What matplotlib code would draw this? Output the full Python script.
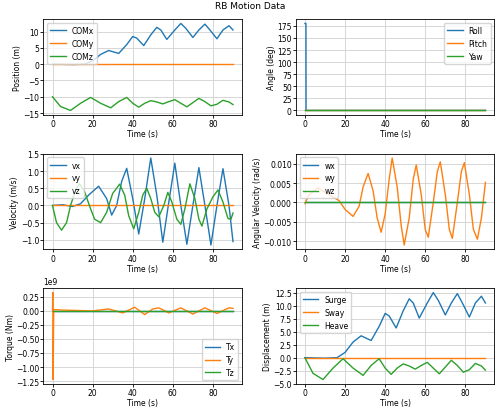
import numpy as np
import matplotlib
matplotlib.use("Agg")
import matplotlib.pyplot as plt

t_x = [0,10,16,20,24,28,33,37,40,42,45.5,49,52,54,57,61,64,66.5,70,73,76,78.5,82,85,88,90]
surge = [0,-0.1,0,1,3,4.2,3.3,6,8.5,8,5.7,9,11.3,10.5,7.6,10.5,12.5,11,8.2,10.5,12.3,10.5,7.8,10.5,11.8,10.5]
t_z = [0,4,9,14,19,24,29,33,37,40,43,46,49,52,55,58,61,64,67,70,73,76,79,82,85,88,90]
heave = [0,-3,-4.2,-2,-0.2,-2,-3.4,-1.5,-0.2,-2,-3.2,-2,-1.2,-1.6,-2.2,-1.5,-0.9,-2,-3.1,-1.8,-0.5,-1.5,-2.8,-2.3,-1.1,-1.6,-2.4]
comz = [h - 10 for h in heave]
t_vx = [0,5,10,14,18,23,27,29.5,32,34.5,37,40,43,46,49,52,55,58,61,64,67,70,73,76,79,82,85,88,90]
vx = [0,0.02,-0.03,0.05,0.3,0.56,0.2,-0.28,0,0.7,1.08,0.2,-0.83,0.2,1.38,0.3,-1.07,0.1,1.23,0,-1.13,0,1.1,0,-1.15,0,1.07,0,-1.05]
t_vz = [0,2,4.5,7,9,11.5,13.5,16,19,21,24,27,30,33.5,36,38,40.5,43,45,47,49,51,53,55.5,57.5,59.5,62,64,66,68.5,71,73,74.5,77,80,82.5,85,87.5,89,90]
vz = [0,-0.5,-0.72,-0.5,0,0.45,0.63,0.4,-0.1,-0.4,-0.5,-0.2,0.35,0.62,0.3,-0.3,-0.68,-0.2,0.3,0.5,0.2,-0.2,-0.33,0,0.38,0.1,-0.4,-0.55,-0.1,0.63,0.2,-0.4,-0.6,-0.1,0.25,0.45,0.1,-0.38,-0.4,-0.22]
t_wy = [0,2,6.5,12,17,20,24,27,29,31.5,34,36,38,40,42,43.5,46,48,49.5,52,54,55.5,58,60,61.5,64,66,67.5,70,72,73.5,76,78,79.5,82,84,86,88,90]
wy = [-0.0003,0.002,0.0038,0.002,0.0005,-0.0018,-0.0036,-0.001,0.004,0.0075,0.003,-0.004,-0.0077,-0.003,0.006,0.0115,0.004,-0.006,-0.011,-0.004,0.006,0.0097,0.002,-0.007,-0.009,0,0.008,0.0105,0.002,-0.007,-0.0093,0,0.008,0.0103,0.002,-0.007,-0.0095,-0.004,0.0052]
t_ty = [0,0.15,0.3,0.6,5,20,28,35,41,46,50,53,58,64,70,76,82,88,90]
ty = [0,0.32e9,-1.22e9,0.02e9,0.01e9,-0.005e9,0.03e9,-0.04e9,0.06e9,-0.07e9,0.03e9,0.05e9,-0.04e9,0.05e9,-0.06e9,0.05e9,-0.05e9,0.05e9,0.04e9]
t_roll = [0,0.5,0.55,90]
roll = [180,180,0,0]
t_end = [0,90]
zero = [0,0]

plt.rcParams['lines.linewidth'] = 1.0
plt.rcParams['axes.linewidth'] = 0.6
plt.rcParams['grid.linewidth'] = 0.6
plt.rcParams['grid.color'] = '#d0d0d0'
fig, axs = plt.subplots(3, 2, figsize=(5,4.14), dpi=100)
fs = 5.5
def style(ax, ylabel, yt, loc='upper left'):
    ax.set_yticks(yt)
    ax.set_xlabel('Time (s)', fontsize=fs, labelpad=1)
    ax.set_ylabel(ylabel, fontsize=fs, labelpad=1)
    ax.tick_params(labelsize=fs, length=2, pad=1, width=0.6)
    ax.grid(True)
    ax.legend(loc=loc, fontsize=fs)
    ax.yaxis.get_offset_text().set_fontsize(fs)

ax = axs[0,0]
ax.plot(t_x, surge, label='COMx'); ax.plot(t_end, zero, label='COMy'); ax.plot(t_z, comz, label='COMz')
style(ax, 'Position (m)', np.arange(-15,11,5))
ax = axs[0,1]
ax.plot(t_roll, roll, label='Roll'); ax.plot(t_end, zero, label='Pitch'); ax.plot(t_end, zero, label='Yaw')
style(ax, 'Angle (deg)', np.arange(0,176,25), 'upper right')
ax = axs[1,0]
ax.plot(t_vx, vx, label='vx'); ax.plot(t_end, zero, label='vy'); ax.plot(t_vz, vz, label='vz')
style(ax, 'Velocity (m/s)', np.arange(-1.0,1.6,0.5))
ax = axs[1,1]
ax.plot(t_end, zero, label='wx'); ax.plot(t_wy, wy, label='wy'); ax.plot(t_end, zero, label='wz')
style(ax, 'Angular Velocity (rad/s)', np.arange(-0.010,0.0101,0.005))
ax = axs[2,0]
ax.plot(t_end, zero, label='Tx'); ax.plot(t_ty, ty, label='Ty'); ax.plot(t_end, zero, label='Tz')
style(ax, 'Torque (Nm)', np.arange(-1.25e9,0.26e9,0.25e9), 'lower right')
ax = axs[2,1]
ax.plot(t_x, surge, label='Surge'); ax.plot(t_end, zero, label='Sway'); ax.plot(t_z, heave, label='Heave')
style(ax, 'Displacement (m)', np.arange(-5,12.6,2.5))

fig.suptitle('RB Motion Data', fontsize=6.5, y=0.995)
fig.tight_layout(pad=0.4, h_pad=0.3, w_pad=0.8)
fig.savefig('out.png')
